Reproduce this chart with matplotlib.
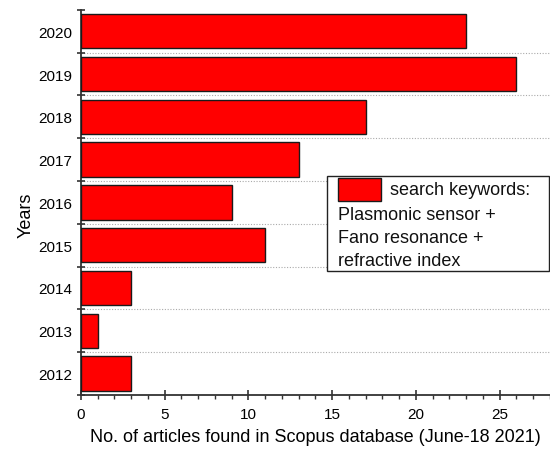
import matplotlib
matplotlib.use("Agg")
import matplotlib.pyplot as plt
from matplotlib.patches import Rectangle
from matplotlib.offsetbox import (AnchoredOffsetbox, DrawingArea, HPacker,
                                  TextArea, VPacker)
from matplotlib.ticker import MultipleLocator

plt.rcParams['font.family'] = ['Liberation Sans', 'DejaVu Sans']

# articles per year (Scopus search)
years = [2012, 2013, 2014, 2015, 2016, 2017, 2018, 2019, 2020]
articles = [3, 1, 3, 11, 9, 13, 17, 26, 23]
legend_lines = ["search keywords:", "Plasmonic sensor +",
                "Fano resonance +", "refractive index"]

fig = plt.figure(figsize=(5.5, 4.52), dpi=100)
ax = fig.add_axes([0.147, 0.124, 0.853, 0.852])

ax.barh(years, articles, height=0.8, color='#ff0000',
        edgecolor='#1a1a1a', linewidth=1.0, zorder=3)

# dotted separators between the year bands
for b in [y + 0.5 for y in years[:-1]]:
    ax.axhline(b, color='#aaaaaa', linestyle=(0, (1, 1.5)), linewidth=0.8,
               zorder=1)

ax.set_xlim(0, 28)
ax.set_ylim(2011.5, 2020.43)

ax.set_yticks(years)
ax.set_yticks([y + 0.5 for y in years[:-1]] + [2011.5, 2020.5], minor=True)
ax.tick_params(axis='y', which='major', length=0, pad=6, labelsize=11)
ax.tick_params(axis='y', which='minor', direction='inout', length=6,
               width=1.2, color='#333333')

ax.xaxis.set_major_locator(MultipleLocator(5))
ax.xaxis.set_minor_locator(MultipleLocator(1))
ax.tick_params(axis='x', which='major', direction='inout', length=7,
               width=1.2, color='#333333', labelsize=11, pad=5)
ax.tick_params(axis='x', which='minor', direction='out', length=3,
               width=1.0, color='#333333')

for side in ['top', 'right']:
    ax.spines[side].set_visible(False)
for side in ['left', 'bottom']:
    ax.spines[side].set_linewidth(1.3)
    ax.spines[side].set_color('#333333')

ax.set_xlabel("No. of articles found in Scopus database (June-18 2021)",
              fontsize=13, labelpad=5)
ax.set_ylabel("Years", fontsize=13, labelpad=3)
ax.yaxis.label.set_y(0.47)

# legend box: red swatch followed by the keyword lines (sizes in points)
swatch = DrawingArea(31, 16)
swatch.add_artist(Rectangle((0, 0), 31, 16, facecolor='#ff0000',
                            edgecolor='#1a1a1a', linewidth=1.0))
txt = dict(fontsize=13, color='#111111')
first = HPacker(children=[swatch, TextArea(legend_lines[0], textprops=txt)],
                pad=0, sep=6, align='center')
rows = [first] + [TextArea(s, textprops=txt) for s in legend_lines[1:]]
box = VPacker(children=rows, pad=0, sep=4.2, align='left')
inner = HPacker(children=[DrawingArea(6.5, 1), box, DrawingArea(12, 1)],
                pad=0, sep=0, align='top')
anchored = AnchoredOffsetbox(loc='upper left', child=inner, pad=0.17,
                             borderpad=0, frameon=True,
                             bbox_to_anchor=(327, 452 - 177),
                             bbox_transform=None)
anchored.patch.set_edgecolor('#222222')
anchored.patch.set_linewidth(1.0)
anchored.patch.set_boxstyle('square', pad=0)
ax.add_artist(anchored)

fig.savefig('out.png', dpi=100)
